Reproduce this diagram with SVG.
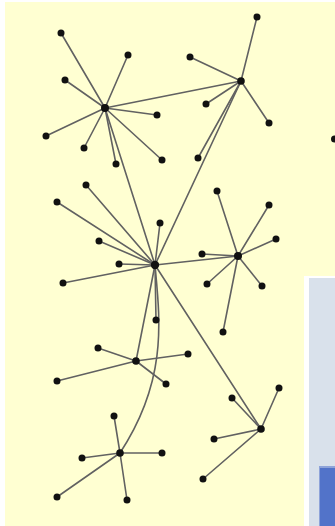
<svg xmlns="http://www.w3.org/2000/svg" width="335" height="526" viewBox="0 0 335 526">
<style>
.e{stroke:#616161;stroke-width:1.6;fill:none;stroke-linecap:round}
.n{fill:#111}
</style>
<rect x="0" y="0" width="335" height="526" fill="#ffffff"/>
<rect x="5" y="2" width="330" height="524" fill="#ffffd2"/>
<g id="panel">
<rect x="304" y="276" width="31" height="250" fill="#ffffff"/>
<rect x="309" y="278" width="26" height="248" fill="#d9e1eb"/>
<rect x="319" y="466" width="16" height="60" fill="#8ea3d9"/>
<rect x="320" y="468" width="15" height="58" fill="#5273c9"/>
</g>
<g id="connectors" class="e">
<line x1="105" y1="108" x2="61" y2="33"/>
<line x1="105" y1="108" x2="128" y2="55"/>
<line x1="105" y1="108" x2="65" y2="80"/>
<line x1="105" y1="108" x2="157" y2="115"/>
<line x1="105" y1="108" x2="46" y2="136"/>
<line x1="105" y1="108" x2="84" y2="148"/>
<line x1="105" y1="108" x2="116" y2="164"/>
<line x1="105" y1="108" x2="162" y2="160"/>
<line x1="105" y1="108" x2="241" y2="81"/>
<line x1="105" y1="108" x2="155" y2="265"/>
<line x1="241" y1="81" x2="257" y2="17"/>
<line x1="241" y1="81" x2="190" y2="57"/>
<line x1="241" y1="81" x2="206" y2="104"/>
<line x1="241" y1="81" x2="269" y2="123"/>
<line x1="241" y1="81" x2="198" y2="158"/>
<line x1="241" y1="81" x2="155" y2="265"/>
<line x1="155" y1="265" x2="86" y2="185"/>
<line x1="155" y1="265" x2="57" y2="202"/>
<line x1="155" y1="265" x2="160" y2="223"/>
<line x1="155" y1="265" x2="99" y2="241"/>
<line x1="155" y1="265" x2="119" y2="264"/>
<line x1="155" y1="265" x2="63" y2="283"/>
<line x1="155" y1="265" x2="156" y2="320"/>
<line x1="155" y1="265" x2="238" y2="256"/>
<line x1="155" y1="265" x2="136" y2="361"/>
<line x1="155" y1="265" x2="261" y2="429"/>
<path d="M155,265 C160,320 168,380 120,453"/>
<line x1="238" y1="256" x2="217" y2="191"/>
<line x1="238" y1="256" x2="269" y2="205"/>
<line x1="238" y1="256" x2="276" y2="239"/>
<line x1="238" y1="256" x2="202" y2="254"/>
<line x1="238" y1="256" x2="207" y2="284"/>
<line x1="238" y1="256" x2="262" y2="286"/>
<line x1="238" y1="256" x2="223" y2="332"/>
<line x1="136" y1="361" x2="98" y2="348"/>
<line x1="136" y1="361" x2="57" y2="381"/>
<line x1="136" y1="361" x2="188" y2="354"/>
<line x1="136" y1="361" x2="166" y2="384"/>
<line x1="120" y1="453" x2="114" y2="416"/>
<line x1="120" y1="453" x2="162" y2="453"/>
<line x1="120" y1="453" x2="82" y2="458"/>
<line x1="120" y1="453" x2="57" y2="497"/>
<line x1="120" y1="453" x2="127" y2="500"/>
<line x1="261" y1="429" x2="279" y2="388"/>
<line x1="261" y1="429" x2="214" y2="439"/>
<line x1="261" y1="429" x2="203" y2="479"/>
<line x1="261" y1="429" x2="232" y2="398"/>
</g>
<g id="hubA"><circle class="n" cx="105" cy="108" r="4"/></g>
<g id="hubB"><circle class="n" cx="241" cy="81" r="3.8"/></g>
<g id="hubC"><circle class="n" cx="155" cy="265" r="4.2"/></g>
<g id="hubD"><circle class="n" cx="238" cy="256" r="4"/></g>
<g id="hubE"><circle class="n" cx="136" cy="361" r="3.8"/></g>
<g id="hubF"><circle class="n" cx="120" cy="453" r="3.8"/></g>
<g id="hubG"><circle class="n" cx="261" cy="429" r="3.8"/></g>
<g id="leaves" class="n">
<g id="n1"><circle cx="61" cy="33" r="3.5"/></g>
<g id="n2"><circle cx="128" cy="55" r="3.5"/></g>
<g id="n3"><circle cx="65" cy="80" r="3.5"/></g>
<g id="n4"><circle cx="157" cy="115" r="3.5"/></g>
<g id="n5"><circle cx="46" cy="136" r="3.5"/></g>
<g id="n6"><circle cx="84" cy="148" r="3.5"/></g>
<g id="n7"><circle cx="116" cy="164" r="3.5"/></g>
<g id="n8"><circle cx="162" cy="160" r="3.5"/></g>
<g id="n9"><circle cx="257" cy="17" r="3.5"/></g>
<g id="n10"><circle cx="190" cy="57" r="3.5"/></g>
<g id="n11"><circle cx="206" cy="104" r="3.5"/></g>
<g id="n12"><circle cx="269" cy="123" r="3.5"/></g>
<g id="n13"><circle cx="198" cy="158" r="3.5"/></g>
<g id="n14"><circle cx="334.5" cy="139" r="3.5"/></g>
<g id="n15"><circle cx="86" cy="185" r="3.5"/></g>
<g id="n16"><circle cx="57" cy="202" r="3.5"/></g>
<g id="n17"><circle cx="160" cy="223" r="3.5"/></g>
<g id="n18"><circle cx="99" cy="241" r="3.5"/></g>
<g id="n19"><circle cx="119" cy="264" r="3.5"/></g>
<g id="n20"><circle cx="63" cy="283" r="3.5"/></g>
<g id="n21"><circle cx="156" cy="320" r="3.5"/></g>
<g id="n22"><circle cx="217" cy="191" r="3.5"/></g>
<g id="n23"><circle cx="269" cy="205" r="3.5"/></g>
<g id="n24"><circle cx="276" cy="239" r="3.5"/></g>
<g id="n25"><circle cx="202" cy="254" r="3.5"/></g>
<g id="n26"><circle cx="207" cy="284" r="3.5"/></g>
<g id="n27"><circle cx="262" cy="286" r="3.5"/></g>
<g id="n28"><circle cx="223" cy="332" r="3.5"/></g>
<g id="n29"><circle cx="98" cy="348" r="3.5"/></g>
<g id="n30"><circle cx="57" cy="381" r="3.5"/></g>
<g id="n31"><circle cx="188" cy="354" r="3.5"/></g>
<g id="n32"><circle cx="166" cy="384" r="3.5"/></g>
<g id="n33"><circle cx="114" cy="416" r="3.5"/></g>
<g id="n34"><circle cx="162" cy="453" r="3.5"/></g>
<g id="n35"><circle cx="82" cy="458" r="3.5"/></g>
<g id="n36"><circle cx="57" cy="497" r="3.5"/></g>
<g id="n37"><circle cx="127" cy="500" r="3.5"/></g>
<g id="n38"><circle cx="279" cy="388" r="3.5"/></g>
<g id="n39"><circle cx="214" cy="439" r="3.5"/></g>
<g id="n40"><circle cx="203" cy="479" r="3.5"/></g>
<g id="n41"><circle cx="232" cy="398" r="3.5"/></g>
</g>
</svg>
